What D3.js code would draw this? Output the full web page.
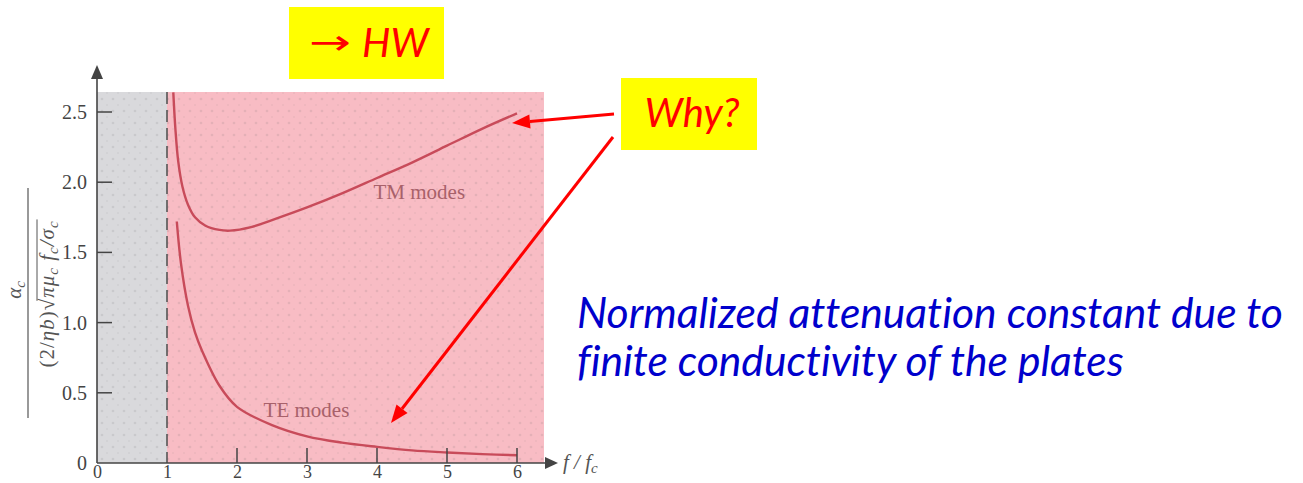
<!DOCTYPE html>
<html>
<head>
<meta charset="utf-8">
<script src="https://cdn.jsdelivr.net/npm/d3@7"></script>
<style>
  body { margin:0; background:#fff; }
  svg { display:block; }
  text { font-variant-ligatures: none; font-kerning: normal; }
</style>
</head>
<body>
<svg id="chart" width="1303" height="483"></svg>
<script>
// values
var xTicks = [0, 1, 2, 3, 4, 5, 6];
var xTickLabels = ["0", "1", "2", "3", "4", "5", "6"];
var yTicks = [0, 0.5, 1.0, 1.5, 2.0, 2.5];
var yTickLabels = ["0", "0.5", "1.0", "1.5", "2.0", "2.5"];
var cutoff = 1;

var tmX = [1.09, 1.12, 1.16, 1.22, 1.3, 1.4, 1.55, 1.75, 1.9, 2.2, 2.5, 3.0, 3.5, 4.0, 4.5, 5.0, 5.5, 6.0];
var tmY = [2.64, 2.38, 2.15, 1.97, 1.84, 1.75, 1.69, 1.66, 1.655, 1.68, 1.73, 1.82, 1.92, 2.03, 2.14, 2.26, 2.38, 2.49];

var teX = [1.14, 1.2, 1.3, 1.4, 1.5, 1.75, 2.0, 2.5, 3.0, 3.5, 4.0, 4.5, 5.0, 5.5, 6.0];
var teY = [1.72, 1.42, 1.12, 0.93, 0.8, 0.55, 0.4, 0.27, 0.19, 0.145, 0.115, 0.09, 0.075, 0.063, 0.055];

var svg = d3.select("#chart");

var x = d3.scaleLinear().domain([0, 6]).range([97, 517]);
var y = d3.scaleLinear().domain([0, 2.5]).range([463, 112]);
var xMax = x.invert(544), yMax = y.invert(92);

var axisColor = "#444";
var curveColor = "#c84b5a";
var serif = "'Liberation Serif', 'DejaVu Serif', serif";

// dotted halftone texture
var defs = svg.append("defs");
var pat = defs.append("pattern")
    .attr("id", "dots")
    .attr("width", 11).attr("height", 12)
    .attr("patternUnits", "userSpaceOnUse");
pat.append("circle").attr("cx", 3).attr("cy", 3).attr("r", 1.3).attr("fill", "rgba(90,90,90,0.13)");
pat.append("circle").attr("cx", 8).attr("cy", 9).attr("r", 1.0).attr("fill", "rgba(90,90,90,0.08)");

// shaded regions
svg.append("rect")
    .attr("x", x(0)).attr("y", y(yMax))
    .attr("width", x(cutoff) - x(0)).attr("height", y(0) - y(yMax))
    .attr("fill", "#d9d9dc");
svg.append("rect")
    .attr("x", x(cutoff)).attr("y", y(yMax))
    .attr("width", x(xMax) - x(cutoff)).attr("height", y(0) - y(yMax))
    .attr("fill", "#f8bcc4");
svg.append("rect")
    .attr("x", x(0)).attr("y", y(yMax))
    .attr("width", x(xMax) - x(0)).attr("height", y(0) - y(yMax))
    .attr("fill", "url(#dots)");

// cutoff dashed line
svg.append("line")
    .attr("x1", x(cutoff)).attr("x2", x(cutoff))
    .attr("y1", y(yMax)).attr("y2", y(0))
    .attr("stroke", "#555").attr("stroke-width", 1.6)
    .attr("stroke-dasharray", "12,6");

// curves
var line = d3.line()
    .x(function(d) { return x(d[0]); })
    .y(function(d) { return y(d[1]); })
    .curve(d3.curveCatmullRom.alpha(0.5));

svg.append("path")
    .datum(d3.zip(tmX, tmY))
    .attr("d", line)
    .attr("fill", "none")
    .attr("stroke", curveColor)
    .attr("stroke-width", 2.4);

svg.append("path")
    .datum(d3.zip(teX, teY))
    .attr("d", line)
    .attr("fill", "none")
    .attr("stroke", curveColor)
    .attr("stroke-width", 2.4);

svg.append("text")
    .attr("x", x(3.95)).attr("y", y(1.88))
    .attr("font-family", serif).attr("font-size", 21)
    .attr("fill", "#a8616a")
    .text("TM modes");
svg.append("text")
    .attr("x", x(2.38)).attr("y", y(0.33))
    .attr("font-family", serif).attr("font-size", 21)
    .attr("fill", "#a8616a")
    .text("TE modes");

// axes
var xAxis = svg.append("g")
    .attr("transform", "translate(0," + y(0) + ")")
    .call(d3.axisBottom(x).tickValues(xTicks).tickSize(0).tickPadding(2)
        .tickFormat(function(d, i) { return xTickLabels[i]; }));
xAxis.select(".domain").remove();
xAxis.selectAll("text")
    .attr("font-family", serif).attr("font-size", 18)
    .attr("fill", axisColor);

// x ticks go inward (up)
svg.selectAll(".xtick")
    .data(xTicks.filter(function(d) { return d > 1; }))
    .enter().append("line")
    .attr("x1", function(d) { return x(d); })
    .attr("x2", function(d) { return x(d); })
    .attr("y1", y(0)).attr("y2", y(0) - 15)
    .attr("stroke", axisColor).attr("stroke-width", 1.5);

var yAxis = svg.append("g")
    .attr("transform", "translate(" + x(0) + ",0)")
    .call(d3.axisLeft(y).tickValues(yTicks).tickSize(0).tickPadding(10)
        .tickFormat(function(d, i) { return yTickLabels[i]; }));
yAxis.select(".domain").remove();
yAxis.selectAll("text")
    .attr("font-family", serif).attr("font-size", 20)
    .attr("fill", axisColor);

svg.selectAll(".ytick")
    .data(yTicks.filter(function(d) { return d > 0; }))
    .enter().append("line")
    .attr("x1", x(0)).attr("x2", x(0) + 15)
    .attr("y1", function(d) { return y(d); })
    .attr("y2", function(d) { return y(d); })
    .attr("stroke", axisColor).attr("stroke-width", 1.5);

// axis lines with arrowheads
svg.append("line")
    .attr("x1", x(0)).attr("x2", 550)
    .attr("y1", y(0)).attr("y2", y(0))
    .attr("stroke", axisColor).attr("stroke-width", 1.6);
svg.append("path")
    .attr("d", "M558," + y(0) + "L545," + (y(0) - 6) + "L545," + (y(0) + 6) + "Z")
    .attr("fill", axisColor);
svg.append("line")
    .attr("x1", x(0)).attr("x2", x(0))
    .attr("y1", y(0)).attr("y2", 75)
    .attr("stroke", axisColor).attr("stroke-width", 1.6);
svg.append("path")
    .attr("d", "M" + x(0) + ",65L" + (x(0) - 6) + ",79L" + (x(0) + 6) + ",79Z")
    .attr("fill", axisColor);

// x axis label f/f_c
var xl = svg.append("text")
    .attr("x", 563).attr("y", y(0) + 6)
    .attr("font-family", serif).attr("font-style", "italic")
    .attr("font-size", 21).attr("fill", "#555");
xl.append("tspan").text("f / f");
xl.append("tspan").attr("font-size", 15).attr("dy", 4).text("c");

// y axis label: fraction, rotated
var fy = 300, fx = 28;
var frac = svg.append("g")
    .attr("transform", "translate(" + fx + "," + fy + ") rotate(-90)")
    .attr("font-family", serif).attr("fill", "#555");

var num = frac.append("text")
    .attr("x", 10).attr("y", -7)
    .attr("text-anchor", "middle")
    .attr("font-style", "italic").attr("font-size", 21);
num.append("tspan").text("α");
num.append("tspan").attr("font-size", 15).attr("dy", 4).text("c");

var den1 = frac.append("text")
    .attr("y", 26).attr("font-size", 21).attr("letter-spacing", 1);
den1.append("tspan").text("(2/");
den1.append("tspan").attr("font-style", "italic").text("ηb");
den1.append("tspan").text(")√");

var den2 = frac.append("text")
    .attr("y", 26).attr("font-size", 21).attr("font-style", "italic").attr("letter-spacing", 1);
den2.append("tspan").text(" πμ");
den2.append("tspan").attr("font-size", 15).attr("dy", 4).text("c");
den2.append("tspan").attr("dy", -4).text(" f");
den2.append("tspan").attr("font-size", 15).attr("dy", 4).text("c");
den2.append("tspan").attr("dy", -4).text("/σ");
den2.append("tspan").attr("font-size", 15).attr("dy", 4).text("c");

var w1 = den1.node().getComputedTextLength();
var w2 = den2.node().getComputedTextLength();
var total = w1 + w2;
var off = 6;
den1.attr("x", -total / 2 + off);
den2.attr("x", -total / 2 + off + w1);
frac.append("line")
    .attr("x1", -total / 2 + off + w1 - 3).attr("x2", total / 2 + off + 1)
    .attr("y1", 9).attr("y2", 9)
    .attr("stroke", "#555").attr("stroke-width", 1);
frac.append("line")
    .attr("x1", -118).attr("x2", 112)
    .attr("y1", 0).attr("y2", 0)
    .attr("stroke", "#555").attr("stroke-width", 1.2);

// annotations
var sans = "Lato, 'Open Sans', sans-serif";

svg.append("rect")
    .attr("x", 289).attr("y", 7).attr("width", 155).attr("height", 72)
    .attr("fill", "#ffff00");
svg.append("text")
    .attr("x", 309).attr("y", 54)
    .attr("font-family", "'DejaVu Sans', sans-serif").attr("font-size", 34)
    .attr("textLength", 42).attr("lengthAdjust", "spacingAndGlyphs")
    .attr("fill", "#ff0000")
    .text("→");
svg.append("text")
    .attr("x", 362).attr("y", 57)
    .attr("font-family", sans).attr("font-style", "italic").attr("font-size", 40)
    .attr("fill", "#ff0000")
    .text("HW");

svg.append("rect")
    .attr("x", 621).attr("y", 78).attr("width", 136).attr("height", 72)
    .attr("fill", "#ffff00");
svg.append("text")
    .attr("x", 692).attr("y", 127)
    .attr("text-anchor", "middle")
    .attr("font-family", sans).attr("font-style", "italic").attr("font-size", 40)
    .attr("fill", "#ff0000")
    .text("Why?");

function arrow(x1, y1, x2, y2) {
  var a = Math.atan2(y2 - y1, x2 - x1);
  var L = 18, W = 7;
  var bx = x2 - L * Math.cos(a), by = y2 - L * Math.sin(a);
  svg.append("line")
      .attr("x1", x1).attr("y1", y1).attr("x2", bx).attr("y2", by)
      .attr("stroke", "#ff0000").attr("stroke-width", 3);
  svg.append("path")
      .attr("d", "M" + x2 + "," + y2 +
        "L" + (bx + W * Math.sin(a)) + "," + (by - W * Math.cos(a)) +
        "L" + (bx - W * Math.sin(a)) + "," + (by + W * Math.cos(a)) + "Z")
      .attr("fill", "#ff0000");
}
arrow(614, 114, 512, 123);
arrow(613, 137, 391, 423);

var blue = svg.append("g")
    .attr("font-family", sans).attr("font-style", "italic")
    .attr("fill", "#0000cc");
var l1 = blue.append("text").attr("x", 577).attr("y", 328).attr("font-size", 40)
    .text("Normalized attenuation constant due to");
var l2 = blue.append("text").attr("x", 577).attr("y", 376).attr("font-size", 40)
    .text("finite conductivity of the plates");
// fit font to line width
var fs = 40 * 706 / l1.node().getComputedTextLength();
l1.attr("font-size", fs);
l2.attr("font-size", fs);
</script>
</body>
</html>
